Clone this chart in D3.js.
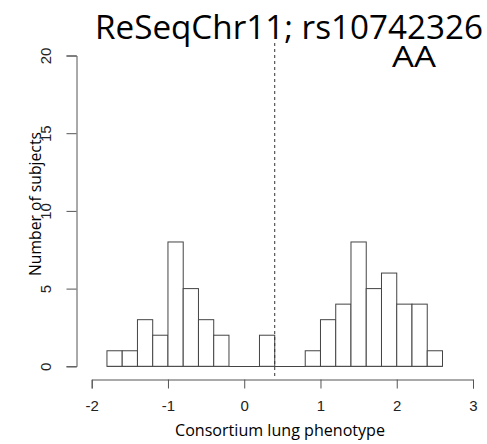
<!DOCTYPE html>
<meta charset="utf-8">
<style>
	body { margin: 0; background: #fff; }
	.axis path, .axis line { stroke: #555; stroke-width: 1px; }
	.axis text { font-family: "Liberation Sans", Arial, sans-serif; font-size: 15px; fill: #222; }
	.bar { fill: #fff; stroke: #444; stroke-width: 1px; }
	.label { font-family: "Open Sans", sans-serif; fill: #000; }
</style>
<svg width="487" height="444"></svg>
<script src="https://cdn.jsdelivr.net/npm/d3@7/dist/d3.min.js"></script>
<script>

// histogram bins (left edge, width 0.2) and counts
var binStarts = [-1.8, -1.6, -1.4, -1.2, -1.0, -0.8, -0.6, -0.4, -0.2, 0.0, 0.2,
	0.4, 0.6, 0.8, 1.0, 1.2, 1.4, 1.6, 1.8, 2.0, 2.2, 2.4];
var counts = [1, 1, 3, 2, 8, 5, 3, 2, 0, 0, 2,
	0, 0, 1, 3, 4, 8, 5, 6, 4, 4, 1];
var binWidth = 0.2;
var xTicks = [-2, -1, 0, 1, 2, 3];
var yTicks = [0, 5, 10, 15, 20];
var cutoff = 0.4;

var svg = d3.select("svg");

var x = d3.scaleLinear().domain([-2, 3]).range([91.7, 473]),
	y = d3.scaleLinear().domain([0, 20]).range([366.3, 55.5]);

// baseline under the bins (R draws empty bins as flat rects)
svg.append("line")
	.attr("x1", x(binStarts[0]))
	.attr("x2", x(binStarts[binStarts.length - 1] + binWidth))
	.attr("y1", Math.round(y(0)) + 0.5).attr("y2", Math.round(y(0)) + 0.5)
	.style("stroke", "#444");

// bars
svg.selectAll(".bar")
	.data(binStarts)
	.enter().append("rect")
	.attr("class", "bar")
	.attr("x", function(d) { return x(d); })
	.attr("width", function(d) { return x(d + binWidth) - x(d); })
	.attr("y", function(d, i) { return y(counts[i]); })
	.attr("height", function(d, i) { return y(0) - y(counts[i]); });

// x axis
svg.append("g")
	.attr("class", "axis axis--x")
	.attr("transform", "translate(0,379.5)")
	.call(d3.axisBottom(x).tickValues(xTicks).tickSize(9).tickPadding(12)
		.tickFormat(function(d) { return d < 0 ? "-" + Math.abs(d) : d; }));

// y axis
var yAxis = svg.append("g")
	.attr("class", "axis axis--y")
	.attr("transform", "translate(76.5,0)")
	.call(d3.axisLeft(y).tickValues(yTicks).tickSize(10).tickFormat(d3.format("d")));

yAxis.selectAll(".tick text")
	.attr("x", 0).attr("dy", 0)
	.attr("text-anchor", "middle")
	.attr("transform", "translate(-26,0) rotate(-90)");

// dashed cutoff
svg.append("line")
	.attr("x1", x(cutoff)).attr("x2", x(cutoff))
	.attr("y1", 43).attr("y2", 379)
	.style("stroke", "#333")
	.style("stroke-dasharray", "3,3");

// titles
svg.append("text")
	.attr("class", "label")
	.attr("x", 95).attr("y", 39)
	.attr("textLength", 388).attr("lengthAdjust", "spacingAndGlyphs")
	.style("font-size", "33px")
	.text("ReSeqChr11; rs10742326");

svg.append("text")
	.attr("class", "label")
	.attr("x", 414).attr("y", 67)
	.attr("text-anchor", "middle")
	.attr("textLength", 44).attr("lengthAdjust", "spacingAndGlyphs")
	.style("font-size", "30px")
	.text("AA");

svg.append("text")
	.attr("class", "label")
	.attr("x", 280).attr("y", 436)
	.attr("text-anchor", "middle")
	.attr("textLength", 210).attr("lengthAdjust", "spacingAndGlyphs")
	.style("font-size", "17px")
	.text("Consortium lung phenotype");

svg.append("text")
	.attr("class", "label")
	.attr("transform", "translate(41,204) rotate(-90)")
	.attr("text-anchor", "middle")
	.attr("textLength", 144).attr("lengthAdjust", "spacingAndGlyphs")
	.style("font-size", "17px")
	.text("Number of subjects");

</script>
